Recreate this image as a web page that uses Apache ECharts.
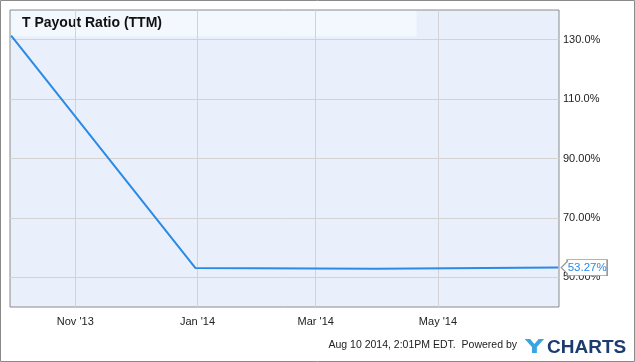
<!DOCTYPE html>
<html>
<head>
<meta charset="utf-8">
<script src="https://cdn.jsdelivr.net/npm/echarts@6/dist/echarts.min.js"></script>
<style>
html,body{margin:0;padding:0;background:#fff;}
#chart{width:635px;height:362px;}
</style>
</head>
<body>
<div id="chart"></div>
<script>
// ---- data ----
var titleText = 'T Payout Ratio (TTM)';
var dates = ['2013-09-30', '2013-12-31', '2014-03-31', '2014-06-30'];
var values = [131.4, 53.1, 52.9, 53.27];
var lastLabel = '53.27%';
var xTickDates = ['2013-11-01', '2014-01-01', '2014-03-01', '2014-05-01'];
var xTickLabels = ["Nov '13", "Jan '14", "Mar '14", "May '14"];
var yTicks = [50, 70, 90, 110, 130];
var yTickLabels = ['50.00%', '70.00%', '90.00%', '110.0%', '130.0%'];
var xRange = ['2013-09-29T10:00', '2014-06-30T10:00'];
var yRange = [40, 140];
var footerText = 'Aug 10 2014, 2:01PM EDT.  Powered by';

function ts(s) {
  var p = s.split('T');
  var d = p[0].split('-');
  var h = p[1] ? p[1].split(':') : [0, 0];
  return Date.UTC(+d[0], +d[1] - 1, +d[2], +h[0], +h[1]);
}
var xTickTs = xTickDates.map(ts);
var seriesData = dates.map(function (d, i) { return [ts(d), values[i]]; });

var chart = echarts.init(document.getElementById('chart'), null, {renderer: 'canvas'});
var font = '"Liberation Sans", Arial, sans-serif';
chart.setOption({
  animation: false,
  grid: {
    left: 10, top: 10, right: 76, bottom: 55,
    show: true, backgroundColor: 'transparent', borderColor: '#8a8a8a', borderWidth: 1
  },
  graphic: [
    {type: 'rect', z: -2, shape: {x: 10, y: 10, width: 549, height: 297}, style: {fill: '#e9f0fb'}, silent: true},
    {type: 'rect', z: -1, shape: {x: 10.5, y: 10.5, width: 406, height: 26}, style: {fill: '#f3f7fe'}, silent: true},
    {type: 'rect', z: 100, shape: {x: 0.5, y: 0.5, width: 634, height: 361}, style: {fill: 'none', stroke: '#8a8a8a', lineWidth: 1}, silent: true},
    {type: 'text', left: 22, top: 16, style: {text: titleText, font: 'bold 14px ' + font, fill: '#111'}},
    {type: 'text', right: 118, top: 340, style: {text: footerText, font: '10.5px ' + font, fill: '#222'}},
    {type: 'text', x: 525, y: 338, scaleX: 1.3, style: {text: 'Y', font: 'bold 20px "DejaVu Sans", sans-serif', fill: '#3da3df'}},
    {type: 'text', x: 547, y: 338, style: {text: 'CHARTS', font: 'bold 19px ' + font, fill: '#1c3b6f'}}
  ],
  xAxis: {
    type: 'value',
    min: ts(xRange[0]), max: ts(xRange[1]),
    axisLine: {show: false},
    axisTick: {show: false, customValues: xTickTs},
    splitLine: {show: true, lineStyle: {color: '#d3d3d3', width: 1}},
    axisLabel: {
      customValues: xTickTs, margin: 9,
      fontFamily: font, fontSize: 11, color: '#222',
      formatter: function (v) { var i = xTickTs.indexOf(v); return i >= 0 ? xTickLabels[i] : ''; }
    }
  },
  yAxis: {
    type: 'value', position: 'right',
    min: yRange[0], max: yRange[1],
    axisLine: {show: false},
    axisTick: {show: false, customValues: yTicks},
    splitLine: {show: true, lineStyle: {color: '#d3d3d3', width: 1}},
    axisLabel: {
      customValues: yTicks, margin: 4,
      fontFamily: font, fontSize: 11, color: '#222',
      formatter: function (v) { var i = yTicks.indexOf(v); return i >= 0 ? yTickLabels[i] : ''; }
    }
  },
  series: [{
    type: 'line',
    data: seriesData,
    showSymbol: false,
    lineStyle: {color: '#2a8ae6', width: 2},
    itemStyle: {color: '#2a8ae6'},
    markPoint: {
      silent: true,
      data: [{coord: seriesData[seriesData.length - 1]}],
      symbol: 'path://M0,8L6,2L6,0L46,0L46,16L6,16L6,14Z',
      symbolKeepAspect: false,
      symbolSize: [46, 16],
      symbolOffset: [26, 0],
      itemStyle: {color: '#ffffff', borderColor: '#9a9a9a', borderWidth: 1},
      label: {
        show: true, position: 'inside', offset: [3, 0],
        formatter: lastLabel, color: '#2a8ae6', fontFamily: font, fontSize: 11.5
      }
    }
  }]
});
</script>
</body>
</html>
